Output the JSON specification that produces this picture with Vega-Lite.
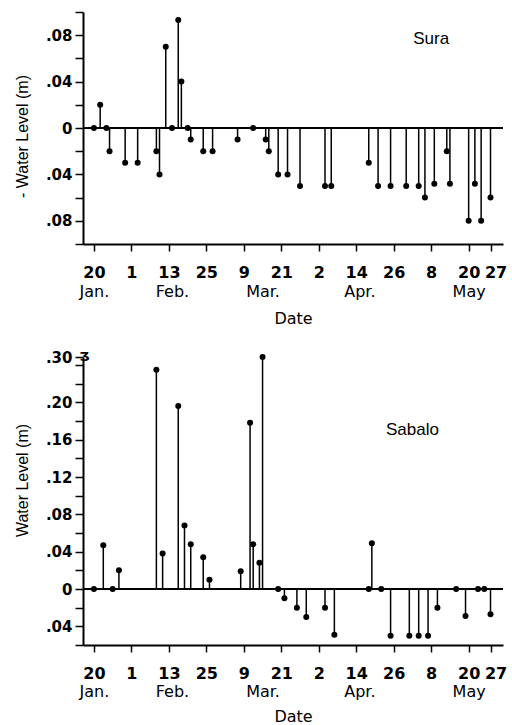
{
  "$schema": "https://vega.github.io/schema/vega-lite/v6.json",
  "background": "white",
  "padding": {"left": 14, "top": 5, "right": 5, "bottom": 0},
  "spacing": 24,
  "config": {
    "view": {"stroke": null},
    "font": "DejaVu Sans",
    "axis": {
      "grid": false,
      "domainColor": "black",
      "domainWidth": 2,
      "tickColor": "black",
      "tickWidth": 1.5,
      "labelColor": "black",
      "titleColor": "black",
      "labelOverlap": false,
      "labelBound": false,
      "labelFlush": false
    }
  },
  "datasets": {
    "sura": [
      {"date": "1981/01/20", "level": 0},
      {"date": "1981/01/22", "level": 0.02},
      {"date": "1981/01/24", "level": 0},
      {"date": "1981/01/25", "level": -0.02},
      {"date": "1981/01/30", "level": -0.03},
      {"date": "1981/02/03", "level": -0.03},
      {"date": "1981/02/09", "level": -0.02},
      {"date": "1981/02/10", "level": -0.04},
      {"date": "1981/02/12", "level": 0.07},
      {"date": "1981/02/14", "level": 0},
      {"date": "1981/02/16", "level": 0.093},
      {"date": "1981/02/17", "level": 0.04},
      {"date": "1981/02/19", "level": 0},
      {"date": "1981/02/20", "level": -0.01},
      {"date": "1981/02/24", "level": -0.02},
      {"date": "1981/02/27", "level": -0.02},
      {"date": "1981/03/07", "level": -0.01},
      {"date": "1981/03/12", "level": 0},
      {"date": "1981/03/16", "level": -0.01},
      {"date": "1981/03/17", "level": -0.02},
      {"date": "1981/03/20", "level": -0.04},
      {"date": "1981/03/23", "level": -0.04},
      {"date": "1981/03/27", "level": -0.05},
      {"date": "1981/04/04", "level": -0.05},
      {"date": "1981/04/06", "level": -0.05},
      {"date": "1981/04/18", "level": -0.03},
      {"date": "1981/04/21", "level": -0.05},
      {"date": "1981/04/25", "level": -0.05},
      {"date": "1981/04/30", "level": -0.05},
      {"date": "1981/05/04", "level": -0.05},
      {"date": "1981/05/06", "level": -0.06},
      {"date": "1981/05/09", "level": -0.048},
      {"date": "1981/05/13", "level": -0.02},
      {"date": "1981/05/14", "level": -0.048},
      {"date": "1981/05/20", "level": -0.08},
      {"date": "1981/05/22", "level": -0.048},
      {"date": "1981/05/24", "level": -0.08},
      {"date": "1981/05/27", "level": -0.06}
    ],
    "sabalo": [
      {"date": "1981/01/20", "level": 0},
      {"date": "1981/01/23", "level": 0.047},
      {"date": "1981/01/26", "level": 0},
      {"date": "1981/01/28", "level": 0.02},
      {"date": "1981/02/09", "level": 0.235},
      {"date": "1981/02/11", "level": 0.038},
      {"date": "1981/02/16", "level": 0.196},
      {"date": "1981/02/18", "level": 0.068},
      {"date": "1981/02/20", "level": 0.048},
      {"date": "1981/02/24", "level": 0.034},
      {"date": "1981/02/26", "level": 0.01},
      {"date": "1981/03/08", "level": 0.019},
      {"date": "1981/03/11", "level": 0.178},
      {"date": "1981/03/12", "level": 0.048},
      {"date": "1981/03/14", "level": 0.028},
      {"date": "1981/03/15", "level": 0.30},
      {"date": "1981/03/20", "level": 0},
      {"date": "1981/03/22", "level": -0.01},
      {"date": "1981/03/26", "level": -0.02},
      {"date": "1981/03/29", "level": -0.03},
      {"date": "1981/04/04", "level": -0.02},
      {"date": "1981/04/07", "level": -0.049},
      {"date": "1981/04/18", "level": 0},
      {"date": "1981/04/19", "level": 0.049},
      {"date": "1981/04/22", "level": 0},
      {"date": "1981/04/25", "level": -0.05},
      {"date": "1981/05/01", "level": -0.05},
      {"date": "1981/05/04", "level": -0.05},
      {"date": "1981/05/07", "level": -0.05},
      {"date": "1981/05/10", "level": -0.02},
      {"date": "1981/05/16", "level": 0},
      {"date": "1981/05/19", "level": -0.029},
      {"date": "1981/05/23", "level": 0},
      {"date": "1981/05/25", "level": 0},
      {"date": "1981/05/27", "level": -0.027}
    ]
  },
  "vconcat": [
    {
      "width": 420,
      "height": 232,
      "layer": [
        {
          "data": {"name": "sura"},
          "layer": [
            {
              "mark": {"type": "rule", "color": "black", "strokeWidth": 1.5},
              "encoding": {"y": {"datum": 0, "type": "quantitative"}}
            },
            {
              "mark": {"type": "rule", "color": "black", "strokeWidth": 1.5},
              "encoding": {
                "x": {
                  "field": "date", "type": "temporal",
                  "scale": {"domain": [{"year": 1981, "month": 1, "date": 16, "hours": 12}, {"year": 1981, "month": 5, "date": 31}]},
                  "axis": {
                    "orient": "bottom", "title": null, "labelOverlap": false, "tickCount": 100,
                    "values": [
                      {"year": 1981, "month": 1, "date": 20}, {"year": 1981, "month": 2, "date": 1},
                      {"year": 1981, "month": 2, "date": 13}, {"year": 1981, "month": 2, "date": 25},
                      {"year": 1981, "month": 3, "date": 9}, {"year": 1981, "month": 3, "date": 21},
                      {"year": 1981, "month": 4, "date": 2}, {"year": 1981, "month": 4, "date": 14},
                      {"year": 1981, "month": 4, "date": 26}, {"year": 1981, "month": 5, "date": 8},
                      {"year": 1981, "month": 5, "date": 20}, {"year": 1981, "month": 5, "date": 27}
                    ],
                    "format": "%-d",
                    "labelFont": "DejaVu Sans", "labelFontWeight": "bold", "labelFontSize": 16,
                    "labelOffset": {"condition": {"test": "month(datum.value) == 4 && date(datum.value) == 27", "value": 5}, "value": 0},
                    "tickSize": 7, "labelPadding": 13
                  }
                },
                "y": {
                  "field": "level", "type": "quantitative",
                  "scale": {"domain": [-0.1, 0.1], "nice": false, "zero": false},
                  "axis": {
                    "title": "- Water Level (m)", "labelOverlap": false, "tickCount": 100,
                    "titleFont": "Liberation Sans", "titleFontSize": 16, "titleFontWeight": "normal",
                    "titlePadding": 15, "titleY": 124,
                    "values": [-0.1, -0.08, -0.06, -0.04, -0.02, 0, 0.02, 0.04, 0.06, 0.08, 0.1],
                    "labelExpr": "abs(datum.value) < 0.001 ? '0' : (abs(round(datum.value*100)) % 4 == 0 && abs(datum.value) < 0.095 ? replace(format(abs(datum.value), '.2f'), '0.', '.') : '')",
                    "labelFont": "DejaVu Sans", "labelFontWeight": "bold", "labelFontSize": 15,
                    "tickSize": 8, "labelPadding": 3
                  }
                },
                "y2": {"datum": 0}
              }
            },
            {
              "mark": {"type": "point", "filled": true, "size": 36, "color": "black", "opacity": 1},
              "encoding": {
                "x": {"field": "date", "type": "temporal"},
                "y": {"field": "level", "type": "quantitative"}
              }
            }
          ]
        },
        {
          "data": {"values": [{"site": "Sura"}]},
          "mark": {"type": "text", "fontSize": 17, "font": "Liberation Sans", "color": "black"},
          "encoding": {
            "x": {
              "datum": {"year": 1981, "month": 5, "date": 8}, "type": "temporal",
              "scale": {"domain": [{"year": 1981, "month": 1, "date": 16, "hours": 12}, {"year": 1981, "month": 5, "date": 31}]},
              "axis": {
                "orient": "bottom", "domain": false, "tickSize": 0, "tickOpacity": 0, "labelOverlap": false, "tickCount": 100,
                "values": [
                  {"year": 1981, "month": 1, "date": 20}, {"year": 1981, "month": 2, "date": 14},
                  {"year": 1981, "month": 3, "date": 15}, {"year": 1981, "month": 4, "date": 15},
                  {"year": 1981, "month": 5, "date": 20}
                ],
                "labelExpr": "['Jan.','Feb.','Mar.','Apr.','May'][month(datum.value)]",
                "labelFont": "DejaVu Sans", "labelFontSize": 16, "labelPadding": 39,
                "title": "Date", "titleFont": "DejaVu Sans", "titleFontSize": 16, "titleFontWeight": "normal",
                "titlePadding": 11
              }
            },
            "y": {"datum": 0.077, "type": "quantitative"},
            "text": {"field": "site"}
          }
        }
      ],
      "resolve": {"scale": {"x": "independent"}, "axis": {"x": "independent"}}
    },
    {
      "width": 420,
      "height": 288,
      "layer": [
        {
          "data": {"name": "sabalo"},
          "layer": [
            {
              "mark": {"type": "rule", "color": "black", "strokeWidth": 1.5},
              "encoding": {"y": {"datum": 0, "type": "quantitative"}}
            },
            {
              "mark": {"type": "rule", "color": "black", "strokeWidth": 1.5},
              "encoding": {
                "x": {
                  "field": "date", "type": "temporal",
                  "scale": {"domain": [{"year": 1981, "month": 1, "date": 16, "hours": 12}, {"year": 1981, "month": 5, "date": 31}]},
                  "axis": {
                    "orient": "bottom", "title": null, "labelOverlap": false, "tickCount": 100,
                    "values": [
                      {"year": 1981, "month": 1, "date": 20}, {"year": 1981, "month": 2, "date": 1},
                      {"year": 1981, "month": 2, "date": 13}, {"year": 1981, "month": 2, "date": 25},
                      {"year": 1981, "month": 3, "date": 9}, {"year": 1981, "month": 3, "date": 21},
                      {"year": 1981, "month": 4, "date": 2}, {"year": 1981, "month": 4, "date": 14},
                      {"year": 1981, "month": 4, "date": 26}, {"year": 1981, "month": 5, "date": 8},
                      {"year": 1981, "month": 5, "date": 20}, {"year": 1981, "month": 5, "date": 27}
                    ],
                    "format": "%-d",
                    "labelFont": "DejaVu Sans", "labelFontWeight": "bold", "labelFontSize": 16,
                    "labelOffset": {"condition": {"test": "month(datum.value) == 4 && date(datum.value) == 27", "value": 5}, "value": 0},
                    "tickSize": 7, "labelPadding": 13
                  }
                },
                "y": {
                  "field": "level", "type": "quantitative",
                  "scale": {"domain": [-0.06, 0.24, 0.3], "range": [288, 8, 0], "nice": false, "zero": false},
                  "axis": {
                    "title": "Water Level (m)", "labelOverlap": false, "tickCount": 100,
                    "titleFont": "Liberation Sans", "titleFontSize": 16, "titleFontWeight": "normal",
                    "titlePadding": 15, "titleY": 123,
                    "values": [-0.06, -0.04, -0.02, 0, 0.02, 0.04, 0.06, 0.08, 0.1, 0.12, 0.14, 0.16, 0.18, 0.2, 0.22, 0.24, 0.3],
                    "labelExpr": "abs(datum.value) < 0.001 ? '0' : (datum.value > 0.29 ? '.30' : (abs(round(datum.value*100)) % 4 == 0 && datum.value < 0.21 && datum.value > -0.05 ? replace(format(abs(datum.value), '.2f'), '0.', '.') : ''))",
                    "labelFont": "DejaVu Sans", "labelFontWeight": "bold", "labelFontSize": 15,
                    "tickSize": 8, "labelPadding": 3
                  }
                },
                "y2": {"datum": 0}
              }
            },
            {
              "mark": {"type": "point", "filled": true, "size": 36, "color": "black", "opacity": 1},
              "encoding": {
                "x": {"field": "date", "type": "temporal"},
                "y": {"field": "level", "type": "quantitative"}
              }
            },
            {
              "data": {"values": [{"mark": "Ʒ"}]},
              "mark": {"type": "text", "fontSize": 13, "font": "DejaVu Sans", "fontWeight": "bold", "color": "black", "align": "center", "baseline": "middle"},
              "encoding": {
                "x": {"datum": {"year": 1981, "month": 1, "date": 17}, "type": "temporal"},
                "y": {"datum": 0.3, "type": "quantitative"},
                "text": {"field": "mark"}
              }
            }
          ]
        },
        {
          "data": {"values": [{"site": "Sabalo"}]},
          "mark": {"type": "text", "fontSize": 17, "font": "Liberation Sans", "color": "black"},
          "encoding": {
            "x": {
              "datum": {"year": 1981, "month": 5, "date": 2}, "type": "temporal",
              "scale": {"domain": [{"year": 1981, "month": 1, "date": 16, "hours": 12}, {"year": 1981, "month": 5, "date": 31}]},
              "axis": {
                "orient": "bottom", "domain": false, "tickSize": 0, "tickOpacity": 0, "labelOverlap": false, "tickCount": 100,
                "values": [
                  {"year": 1981, "month": 1, "date": 20}, {"year": 1981, "month": 2, "date": 14},
                  {"year": 1981, "month": 3, "date": 15}, {"year": 1981, "month": 4, "date": 15},
                  {"year": 1981, "month": 5, "date": 20}
                ],
                "labelExpr": "['Jan.','Feb.','Mar.','Apr.','May'][month(datum.value)]",
                "labelFont": "DejaVu Sans", "labelFontSize": 16, "labelPadding": 38,
                "title": "Date", "titleFont": "DejaVu Sans", "titleFontSize": 16, "titleFontWeight": "normal",
                "titlePadding": 9
              }
            },
            "y": {"datum": 0.17, "type": "quantitative"},
            "text": {"field": "site"}
          }
        }
      ],
      "resolve": {"scale": {"x": "independent"}, "axis": {"x": "independent"}}
    }
  ]
}
